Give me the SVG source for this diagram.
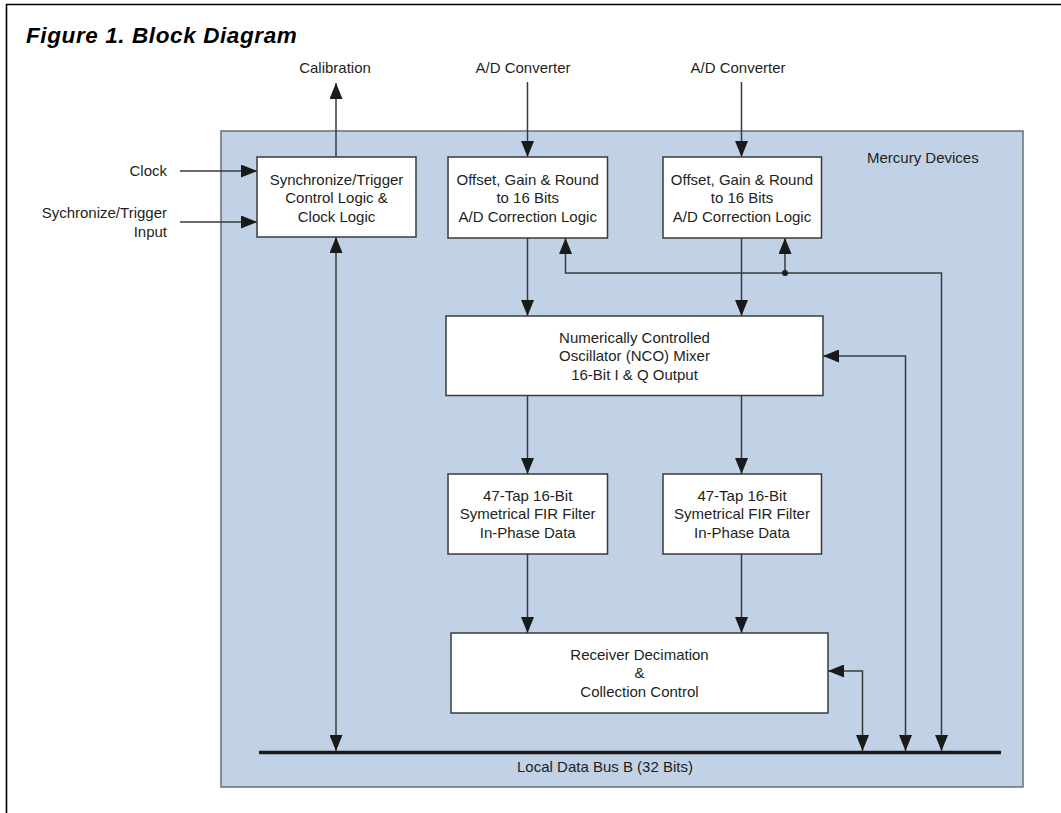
<svg xmlns="http://www.w3.org/2000/svg" width="1061" height="813" viewBox="0 0 1061 813">
  <style>
    .lbl { font-family: "Liberation Sans", Arial, sans-serif; font-size: 15px; fill: #231f20; }
    .mid { text-anchor: middle; }
    .end { text-anchor: end; }
    .box { fill: #ffffff; stroke: #3a3a3c; stroke-width: 1.5; }
    .wire { fill: none; stroke: #3a3a3c; stroke-width: 1.5; }
    .title { font-family: "Liberation Sans", Arial, sans-serif; font-size: 22.5px; font-weight: bold; font-style: italic; letter-spacing: 0.6px; fill: #000000; }
  </style>
  <defs>
    <marker id="arrow" markerUnits="userSpaceOnUse" markerWidth="16" markerHeight="13" refX="16" refY="6.5" orient="auto-start-reverse">
      <path d="M0,0 L16,6.5 L0,13 Z" fill="#1a1a1a"/>
    </marker>
  </defs>

  <!-- page frame -->
  <path d="M6.5,813 V4.5 H1061" fill="none" stroke="#000000" stroke-width="1.6"/>

  <text class="title" x="26" y="43">Figure 1. Block Diagram</text>

  <!-- device panel -->
  <g id="panel">
    <rect x="221" y="131" width="802" height="656" fill="#c1d1e6" stroke="#6d6e71" stroke-width="1.5"/>
    <text class="lbl" x="867" y="163">Mercury Devices</text>
  </g>

  <!-- external labels -->
  <g id="ext-labels">
    <text class="lbl mid" x="335" y="73">Calibration</text>
    <text class="lbl mid" x="523" y="73">A/D Converter</text>
    <text class="lbl mid" x="738" y="73">A/D Converter</text>
    <text class="lbl end" x="167" y="176">Clock</text>
    <text class="lbl end" x="167" y="218">Sychronize/Trigger</text>
    <text class="lbl end" x="167" y="237">Input</text>
  </g>

  <!-- local data bus -->
  <g id="bus">
    <line x1="259" y1="752.5" x2="1001" y2="752.5" stroke="#1a1a1a" stroke-width="3.5"/>
    <text class="lbl mid" x="605" y="772">Local Data Bus B (32 Bits)</text>
  </g>

  <!-- connectors -->
  <g id="connectors">
    <path class="wire" d="M336,157 V83" marker-end="url(#arrow)"/>
    <path class="wire" d="M180,171 H257" marker-end="url(#arrow)"/>
    <path class="wire" d="M180,222 H257" marker-end="url(#arrow)"/>
    <path class="wire" d="M336,237 V751" marker-start="url(#arrow)" marker-end="url(#arrow)"/>
    <path class="wire" d="M527.5,82 V157" marker-end="url(#arrow)"/>
    <path class="wire" d="M741.5,82 V157" marker-end="url(#arrow)"/>
    <path class="wire" d="M565.5,238 V273 H941.5 V751" marker-start="url(#arrow)" marker-end="url(#arrow)"/>
    <path class="wire" d="M785,273 V238" marker-end="url(#arrow)"/>
    <circle cx="785" cy="273" r="3" fill="#1a1a1a"/>
    <path class="wire" d="M527.5,238 V316" marker-end="url(#arrow)"/>
    <path class="wire" d="M741.5,238 V316" marker-end="url(#arrow)"/>
    <path class="wire" d="M823,356 H905.5 V751" marker-start="url(#arrow)" marker-end="url(#arrow)"/>
    <path class="wire" d="M527.5,395.5 V474" marker-end="url(#arrow)"/>
    <path class="wire" d="M741.5,395.5 V474" marker-end="url(#arrow)"/>
    <path class="wire" d="M527.5,554 V633" marker-end="url(#arrow)"/>
    <path class="wire" d="M741.5,554 V633" marker-end="url(#arrow)"/>
    <path class="wire" d="M828,671 H862.5 V751" marker-start="url(#arrow)" marker-end="url(#arrow)"/>
  </g>

  <!-- blocks -->
  <g id="sync">
    <rect class="box" x="257" y="157" width="159" height="80"/>
    <text class="lbl mid" x="336.5" y="184.5">Synchronize/Trigger</text>
    <text class="lbl mid" x="336.5" y="203">Control Logic &amp;</text>
    <text class="lbl mid" x="336.5" y="221.5">Clock Logic</text>
  </g>

  <g id="adc-correction-1">
    <rect class="box" x="448" y="157" width="159.5" height="81"/>
    <text class="lbl mid" x="527.7" y="184.5">Offset, Gain &amp; Round</text>
    <text class="lbl mid" x="527.7" y="203">to 16 Bits</text>
    <text class="lbl mid" x="527.7" y="221.5">A/D Correction Logic</text>
  </g>

  <g id="adc-correction-2">
    <rect class="box" x="663" y="157" width="158.5" height="81"/>
    <text class="lbl mid" x="742" y="184.5">Offset, Gain &amp; Round</text>
    <text class="lbl mid" x="742" y="203">to 16 Bits</text>
    <text class="lbl mid" x="742" y="221.5">A/D Correction Logic</text>
  </g>

  <g id="nco">
    <rect class="box" x="446" y="316" width="377" height="79.5"/>
    <text class="lbl mid" x="634.5" y="342.5">Numerically Controlled</text>
    <text class="lbl mid" x="634.5" y="361">Oscillator (NCO) Mixer</text>
    <text class="lbl mid" x="634.5" y="379.5">16-Bit I &amp; Q Output</text>
  </g>

  <g id="fir-1">
    <rect class="box" x="448" y="474" width="159.5" height="80"/>
    <text class="lbl mid" x="527.7" y="500.5">47-Tap 16-Bit</text>
    <text class="lbl mid" x="527.7" y="519">Symetrical FIR Filter</text>
    <text class="lbl mid" x="527.7" y="537.5">In-Phase Data</text>
  </g>

  <g id="fir-2">
    <rect class="box" x="663" y="474" width="158.5" height="80"/>
    <text class="lbl mid" x="742" y="500.5">47-Tap 16-Bit</text>
    <text class="lbl mid" x="742" y="519">Symetrical FIR Filter</text>
    <text class="lbl mid" x="742" y="537.5">In-Phase Data</text>
  </g>

  <g id="receiver">
    <rect class="box" x="451" y="633" width="377" height="80"/>
    <text class="lbl mid" x="639.5" y="659.5">Receiver Decimation</text>
    <text class="lbl mid" x="639.5" y="678">&amp;</text>
    <text class="lbl mid" x="639.5" y="696.5">Collection Control</text>
  </g>
</svg>
